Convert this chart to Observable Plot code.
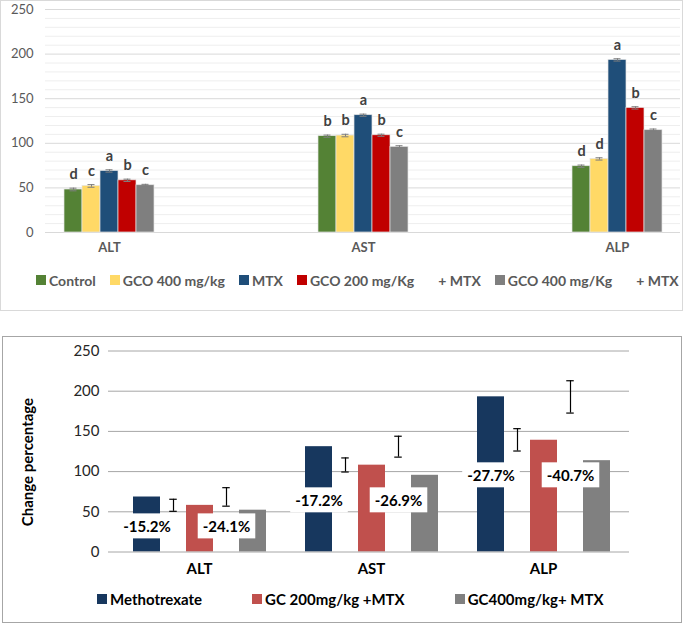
<!DOCTYPE html>
<html>
<head>
<meta charset="utf-8">
<script src="https://cdn.jsdelivr.net/npm/d3@7"></script>
<script src="https://cdn.jsdelivr.net/npm/@observablehq/plot@0.6"></script>
<style>
  body { margin: 0; background: #fff; font-family: Lato, "Open Sans", sans-serif; }
  #root { position: relative; width: 685px; height: 625px; overflow: hidden; background: #fff; }
  #topPanel { position: absolute; left: 0; top: 0; width: 683px; height: 311px; overflow: hidden; }
  #topBorder { position: absolute; left: 0; top: 0; width: 681px; height: 309px; border: 1px solid #d9d9d9; pointer-events: none; }
  #bottomBorder { position: absolute; left: 2px; top: 336px; width: 678px; height: 285px; border: 1.5px solid #a6a6a6; }
  .legend { position: absolute; display: flex; align-items: center; white-space: pre; }
  .legend .item { display: flex; align-items: center; }
  .legend .sw { width: 10px; height: 10px; margin-right: 3px; }
  #topLegend { left: 36px; top: 271px; height: 18px; font-size: 14px; font-weight: bold; color: #595959; gap: 14px; }
  #bottomLegend { left: 97px; top: 590px; height: 18px; font-size: 15px; font-weight: bold; color: #000; gap: 50px; }
  #yLabel { position: absolute; left: 27px; top: 462px; transform: translate(-50%, -50%) rotate(-90deg); font-size: 15px; font-weight: bold; color: #000; white-space: nowrap; }
</style>
</head>
<body>
<div id="root">
  <div id="topPanel"></div>
  <div id="topBorder"></div>
  <div id="topLegend" class="legend"></div>
  <div id="bottomBorder"></div>
  <div id="yLabel">Change percentage</div>
  <div id="bottomLegend" class="legend"></div>
</div>
<script>
// ---------- data: top chart ----------
const categories = ["ALT", "AST", "ALP"];
const topSeries = ["Control", "GCO 400 mg/kg", "MTX", "GCO 200 mg/Kg + MTX", "GCO 400 mg/Kg + MTX"];
const topLegendLabels = ["Control", "GCO 400 mg/kg", "MTX", "GCO 200 mg/Kg", "GCO 400 mg/Kg"];
const topLegendSuffix = ["", "", "", "+ MTX", "+ MTX"];
const topColors = ["#548235", "#FFD966", "#1F4E79", "#C00000", "#7F7F7F"];
const altValues = [48.2, 52.2, 69.0, 58.5, 53.0];
const astValues = [108.0, 108.7, 131.5, 109.0, 96.0];
const alpValues = [74.3, 82.5, 193.5, 139.7, 114.7];
const altErrors = [1.5, 1.5, 1.3, 1.3, 1.0];
const astErrors = [1.2, 1.4, 1.2, 1.2, 1.3];
const alpErrors = [1.3, 1.3, 1.3, 1.3, 1.3];
const altLetters = ["d", "c", "a", "b", "c"];
const astLetters = ["b", "b", "a", "b", "c"];
const alpLetters = ["d", "d", "a", "b", "c"];
const topMajorTicks = [0, 50, 100, 150, 200, 250];
const topMinorTicks = [10, 20, 30, 40, 60, 70, 80, 90, 110, 120, 130, 140, 160, 170, 180, 190, 210, 220, 230, 240];

// ---------- data: bottom chart ----------
const bottomSeries = ["Methotrexate", "GC 200mg/kg +MTX", "GC400mg/kg+ MTX"];
const bottomColors = ["#17375E", "#C0504D", "#808080"];
const bottomAlt = [68.4, 58.0, 52.0];
const bottomAst = [131.0, 108.0, 95.4];
const bottomAlp = [193.0, 139.0, 113.6];
const pctLabels = [["-15.2%", "-24.1%"], ["-17.2%", "-26.9%"], ["-27.7%", "-40.7%"]];
const pctLabelY = [31, 63.4, 94.5];
const errLow = [[50.6, 57.0], [99.5, 118.0], [125.6, 172.8]];
const errHigh = [[65.6, 80.0], [117.0, 144.0], [153.4, 213.0]];
const bottomTicks = [0, 50, 100, 150, 200, 250];
const bottomGrid = [50, 100, 150, 200, 250];

// ---------- tables ----------
const topVals = [altValues, astValues, alpValues];
const topErrs = [altErrors, astErrors, alpErrors];
const topLets = [altLetters, astLetters, alpLetters];
const topRows = categories.flatMap((cat, i) => topSeries.map((s, j) => ({
  cat, series: s, value: topVals[i][j], err: topErrs[i][j], letter: topLets[i][j]
})));
const botVals = [bottomAlt, bottomAst, bottomAlp];
const bottomRows = categories.flatMap((cat, i) => bottomSeries.map((s, j) => ({cat, series: s, value: botVals[i][j]})));
const pctRows = categories.flatMap((cat, i) => [0, 1].map(k => ({cat, slot: k, series: bottomSeries[k], y: pctLabelY[i], label: pctLabels[i][k]})));
const errRows = categories.flatMap((cat, i) => [0, 1].map(k => ({cat, series: bottomSeries[k], lo: errLow[i][k], hi: errHigh[i][k]})));

const baseStyle = {background: "transparent", overflow: "visible", maxWidth: "none", fontFamily: "Lato, 'Open Sans', sans-serif"};

// ---------- top chart: grid + axis ----------
const topAxes = Plot.plot({
  width: 683, height: 260,
  marginLeft: 45, marginRight: 3, marginTop: 9, marginBottom: 28,
  style: baseStyle,
  y: {domain: [0, 250]},
  marks: [
    Plot.ruleY(topMinorTicks, {stroke: "#eeeeee"}),
    Plot.ruleY(topMajorTicks, {stroke: "#d9d9d9"}),
    Plot.axisY({ticks: topMajorTicks, tickSize: 0, tickPadding: 12, fontSize: 13, fill: "#595959", label: null})
  ]
});
topAxes.style.position = "absolute"; topAxes.style.left = "0px"; topAxes.style.top = "0px";

// ---------- top chart: bars ----------
const topBars = Plot.plot({
  width: 762, height: 260,
  marginLeft: 0, marginRight: 0, marginTop: 9, marginBottom: 28,
  style: baseStyle,
  fx: {domain: categories, padding: 0, axis: null},
  x: {domain: topSeries, paddingInner: 0, paddingOuter: 4.5, axis: null},
  y: {domain: [0, 250], axis: null},
  color: {domain: topSeries, range: topColors},
  marks: [
    Plot.barY(topRows, {fx: "cat", x: "series", y: "value", fill: "series", stroke: "#e4e4e4", strokeWidth: 0.7}),
    Plot.ruleX(topRows, {fx: "cat", x: "series", y1: d => d.value - d.err, y2: d => d.value + d.err, stroke: "#7f7f7f"}),
    Plot.tickY(topRows, {fx: "cat", x: "series", y: d => d.value + d.err, stroke: "#7f7f7f", inset: 5.5}),
    Plot.tickY(topRows, {fx: "cat", x: "series", y: d => d.value - d.err, stroke: "#7f7f7f", inset: 5.5}),
    Plot.text(topRows, {fx: "cat", x: "series", y: "value", text: "letter", dy: -15, fontSize: 14.5, fontWeight: "bold", fill: "#404040"}),
    Plot.text(categories, {fx: d => d, text: d => d, frameAnchor: "bottom", dy: 19, fontSize: 13, fontWeight: "bold", fill: "#595959"})
  ]
});
topBars.style.position = "absolute"; topBars.style.left = "-18px"; topBars.style.top = "0px";

const topPanel = document.getElementById("topPanel");
topPanel.appendChild(topAxes);
topPanel.appendChild(topBars);

// top legend
const topLegend = document.getElementById("topLegend");
topLegendLabels.forEach((lab, i) => {
  const it = document.createElement("div"); it.className = "item";
  const sw = document.createElement("div"); sw.className = "sw"; sw.style.background = topColors[i];
  const tx = document.createElement("span"); tx.textContent = lab;
  it.appendChild(sw); it.appendChild(tx);
  if (topLegendSuffix[i]) {
    const sx = document.createElement("span"); sx.textContent = topLegendSuffix[i]; sx.style.marginLeft = "24px";
    it.appendChild(sx);
  }
  topLegend.appendChild(it);
});

// ---------- bottom chart ----------
const bottom = Plot.plot({
  width: 685, height: 252,
  marginLeft: 113, marginRight: 56, marginTop: 14.5, marginBottom: 36.5,
  style: baseStyle,
  fx: {domain: categories, padding: 0, axis: null},
  x: {domain: bottomSeries, paddingInner: 0.5, paddingOuter: 0.37, axis: null},
  y: {domain: [0, 250]},
  color: {domain: bottomSeries, range: bottomColors},
  marks: [
    Plot.ruleY(bottomGrid, {stroke: "#a6a6a6"}),
    Plot.barY(bottomRows, {fx: "cat", x: "series", y: "value", fill: "series"}),
    Plot.ruleY([0], {stroke: "#a6a6a6"}),
    Plot.ruleX(categories, {fx: d => d, dx: 86, y1: 0, y2: 0, insetBottom: -5, stroke: "#a6a6a6"}),
    Plot.ruleX([categories[0]], {fx: d => d, dx: -86, y1: 250, y2: 0, insetBottom: -5, stroke: "#a6a6a6"}),
    Plot.axisY({ticks: bottomTicks, tickSize: 5, tickPadding: 9, stroke: "#a6a6a6", fill: "#262626", fontSize: 15, label: null}),
    Plot.ruleX(errRows, {fx: "cat", x: "series", y1: "lo", y2: "hi", dx: 26.5, stroke: "#000", strokeWidth: 1.2}),
    Plot.tickY(errRows, {fx: "cat", x: "series", y: "hi", dx: 26.5, inset: 9.75, stroke: "#000", strokeWidth: 1.2}),
    Plot.tickY(errRows, {fx: "cat", x: "series", y: "lo", dx: 26.5, inset: 9.75, stroke: "#000", strokeWidth: 1.2}),
    Plot.text(pctRows.filter(d => d.slot === 0), {fx: "cat", x: "series", y: "y", text: "label", fontSize: 15, fontWeight: "bold", fill: "#000"}),
    Plot.text(pctRows.filter(d => d.slot === 1), {fx: "cat", x: "series", y: "y", text: "label", dx: 26.5, fontSize: 15, fontWeight: "bold", fill: "#000"}),
    Plot.text(categories, {fx: d => d, text: d => d, frameAnchor: "bottom", dy: 21.5, fontSize: 15, fontWeight: "bold", fill: "#000"})
  ]
});
bottom.style.position = "absolute"; bottom.style.left = "0px"; bottom.style.top = "336px";
document.getElementById("root").appendChild(bottom);

// white boxes behind the percentage labels
const pctSet = new Set(pctLabels.flat());
Array.from(bottom.querySelectorAll("text")).filter(t => pctSet.has(t.textContent.trim())).forEach(t => {
  const b = t.getBBox();
  const r = document.createElementNS("http://www.w3.org/2000/svg", "rect");
  r.setAttribute("x", b.x - 5); r.setAttribute("y", b.y - 3.5);
  r.setAttribute("width", b.width + 10); r.setAttribute("height", b.height + 7);
  r.setAttribute("fill", "#ffffff");
  r.setAttribute("stroke", "none");
  const tr = t.getAttribute("transform"); if (tr) r.setAttribute("transform", tr);
  t.parentNode.insertBefore(r, t);
});

// bottom legend
const bottomLegend = document.getElementById("bottomLegend");
bottomSeries.forEach((lab, i) => {
  const it = document.createElement("div"); it.className = "item";
  const sw = document.createElement("div"); sw.className = "sw"; sw.style.background = bottomColors[i];
  const tx = document.createElement("span"); tx.textContent = lab;
  it.appendChild(sw); it.appendChild(tx);
  bottomLegend.appendChild(it);
});
</script>
</body>
</html>
